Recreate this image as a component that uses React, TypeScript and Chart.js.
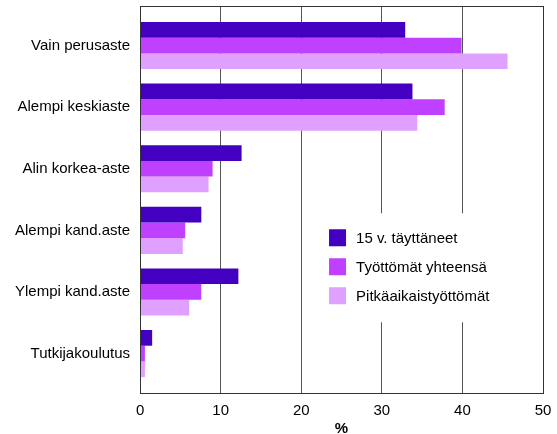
import React, { useEffect, useRef } from "react";
import { Chart, registerables } from "chart.js";

Chart.register(...registerables);

const categories = [
  "Vain perusaste",
  "Alempi keskiaste",
  "Alin korkea-aste",
  "Alempi kand.aste",
  "Ylempi kand.aste",
  "Tutkijakoulutus",
];
const seriesNames = ["15 v. täyttäneet", "Työttömät yhteensä", "Pitkäaikaistyöttömät"];
const series15 = [32.9, 33.8, 12.6, 7.6, 12.2, 1.5];
const seriesAll = [39.9, 37.8, 9.0, 5.6, 7.6, 0.6];
const seriesLong = [45.6, 34.4, 8.5, 5.3, 6.1, 0.6];
const xTicks = [0, 10, 20, 30, 40, 50];

const colors = ["#4400c0", "#c040ff", "#e0a0ff"];
const FONT = "'Liberation Sans', Arial, Helvetica, sans-serif";
const FONT_SIZE = 15;
const Y_MIN = -0.642;
const Y_MAX = 5.64;

const legendPlugin = {
  id: "insideLegend",
  afterDatasetsDraw(chart: any) {
    const { ctx, chartArea, scales } = chart;
    const x0 = scales.x.getPixelForValue(23.45);
    const yc = scales.y.getPixelForValue(3.12);
    const gap = 29;
    const sq = 17;
    ctx.save();
    ctx.fillStyle = "#ffffff";
    ctx.fillRect(x0 - 12, yc - 24.5, chartArea.right - 2 - (x0 - 12), gap * 2 + 51);
    ctx.font = `${FONT_SIZE}px ${FONT}`;
    ctx.textBaseline = "middle";
    ctx.textAlign = "left";
    seriesNames.forEach((name, i) => {
      const cy = yc + i * gap;
      ctx.fillStyle = colors[i];
      ctx.fillRect(x0, cy - sq / 2, sq, sq);
      ctx.fillStyle = "#000";
      ctx.fillText(name, x0 + 27, cy + 1);
    });
    ctx.restore();
  },
  afterDraw(chart: any) {
    const { ctx, chartArea } = chart;
    ctx.save();
    ctx.strokeStyle = "#333";
    ctx.lineWidth = 1;
    ctx.strokeRect(
      Math.round(chartArea.left) + 0.5,
      Math.round(chartArea.top) + 0.5,
      Math.round(chartArea.right) - Math.round(chartArea.left),
      Math.round(chartArea.bottom) - Math.round(chartArea.top)
    );
    ctx.restore();
  },
};

export default function App() {
  const ref = useRef<HTMLCanvasElement>(null);
  useEffect(() => {
    document.body.style.margin = "0";
    Chart.defaults.font.family = FONT;
    Chart.defaults.color = "#000";
    const mk = (vals: number[]) => vals.map((v, i) => ({ x: v, y: i }));
    const chart = new Chart(ref.current!, {
      type: "bar",
      data: {
        datasets: [series15, seriesAll, seriesLong].map((vals, i) => ({
          label: seriesNames[i],
          data: mk(vals),
          backgroundColor: colors[i],
          borderWidth: 0,
          categoryPercentage: 0.765,
          barPercentage: 1,
        })),
      },
      options: {
        indexAxis: "y",
        animation: false,
        responsive: false,
        devicePixelRatio: 1,
        layout: { padding: { left: 5, right: 14, top: 6, bottom: 0 } },
        plugins: { legend: { display: false }, tooltip: { enabled: false } },
        scales: {
          y: {
            type: "linear",
            reverse: true,
            bounds: "data",
            offset: false,
            min: Y_MIN,
            max: Y_MAX,
            afterBuildTicks: (axis: any) => {
              axis.ticks = categories.map((_, i) => ({ value: i }));
              axis.min = Y_MIN;
              axis.max = Y_MAX;
            },
            afterFit: (axis: any) => {
              axis.paddingTop = 0;
              axis.paddingBottom = 0;
            },
            ticks: {
              callback: (v: any) => categories[Math.round(Number(v))],
              font: { size: FONT_SIZE },
              padding: 10,
              color: "#000",
            },
            grid: { display: false, drawTicks: false },
            border: { display: true, color: "#000" },
          },
          x: {
            type: "linear",
            min: 0,
            max: 50,
            afterBuildTicks: (axis: any) => {
              axis.ticks = xTicks.map((v) => ({ value: v }));
            },
            afterFit: (axis: any) => {
              axis.paddingLeft = 0;
              axis.paddingRight = 0;
              axis.height = 41;
            },
            ticks: { font: { size: FONT_SIZE }, padding: 9, color: "#000" },
            grid: { color: "#555", lineWidth: 1, drawTicks: false },
            border: { display: true, color: "#000" },
            title: {
              display: true,
              text: "%",
              font: { size: FONT_SIZE, weight: "bold", lineHeight: 1 },
              padding: { top: 0, bottom: -2 },
              color: "#000",
            },
          },
        },
      },
      plugins: [legendPlugin],
    } as any);
    return () => chart.destroy();
  }, []);
  return (
    <div style={{ width: 557, height: 434 }}>
      <canvas ref={ref} width={557} height={434} style={{ display: "block" }} />
    </div>
  );
}
